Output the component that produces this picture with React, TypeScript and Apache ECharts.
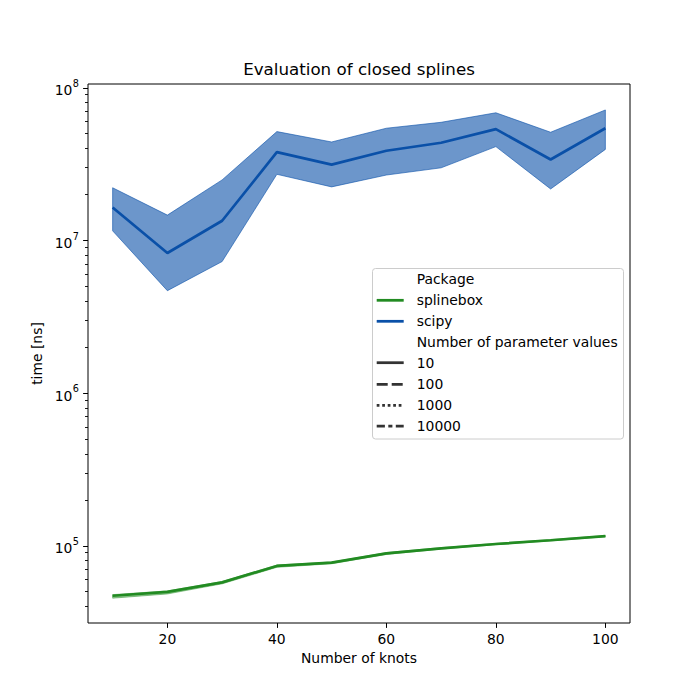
import React, { useEffect, useRef } from "react";
import * as echarts from "echarts";

const knots = [10, 20, 30, 40, 50, 60, 70, 80, 90, 100];

const scipyMean = [1.65e7, 8.3e6, 1.35e7, 3.8e7, 3.15e7, 3.88e7, 4.38e7, 5.38e7, 3.4e7, 5.45e7];
const scipyLow = [1.16e7, 4.7e6, 7.3e6, 2.72e7, 2.25e7, 2.69e7, 3.0e7, 4.13e7, 2.18e7, 3.96e7];
const scipyHigh = [2.22e7, 1.47e7, 2.5e7, 5.18e7, 4.43e7, 5.45e7, 5.96e7, 6.88e7, 5.13e7, 7.18e7];

const splineboxMean = [4.72e4, 5.0e4, 5.78e4, 7.4e4, 7.78e4, 8.95e4, 9.65e4, 1.03e5, 1.09e5, 1.16e5];
const splineboxLow = [4.55e4, 4.85e4, 5.65e4, 7.25e4, 7.65e4, 8.8e4, 9.55e4, 1.02e5, 1.08e5, 1.15e5];
const splineboxHigh = [4.8e4, 5.08e4, 5.85e4, 7.5e4, 7.85e4, 9.05e4, 9.75e4, 1.04e5, 1.1e5, 1.17e5];

const xTicks = [20, 40, 60, 80, 100];
const yTicks = [1e5, 1e6, 1e7, 1e8];
const yTickExponents = ["5", "6", "7", "8"];
const yMinorTicks = [
  4e4, 5e4, 6e4, 7e4, 8e4, 9e4,
  2e5, 3e5, 4e5, 5e5, 6e5, 7e5, 8e5, 9e5,
  2e6, 3e6, 4e6, 5e6, 6e6, 7e6, 8e6, 9e6,
  2e7, 3e7, 4e7, 5e7, 6e7, 7e7, 8e7, 9e7,
];

const packageNames = ["splinebox", "scipy"];
const packageColors = ["#228b22", "#0a50a8"];
const paramCounts = ["10", "100", "1000", "10000"];
const paramDashes: (number[] | null)[] = [null, [11, 4], [2.75, 2.75], [8.2, 3.4, 4.1, 3.4]];

const FONT = "DejaVu Sans";
const FS = 13.9;
const X_MIN = 5.5;
const X_MAX = 104.5;
const Y_MIN = 31300;
const Y_MAX = 1.062e8;

function bandSeries(lo: number[], hi: number[], fill: string) {
  return {
    type: "custom",
    silent: true,
    z: 1,
    data: knots.map((k, i) => [k, lo[i], hi[i]]),
    encode: { x: 0, y: [1, 2] },
    renderItem: (params: any, api: any) => {
      if (params.dataIndex !== 0) return null;
      const pts: number[][] = [];
      for (let i = 0; i < knots.length; i++) pts.push(api.coord([knots[i], hi[i]]));
      for (let i = knots.length - 1; i >= 0; i--) pts.push(api.coord([knots[i], lo[i]]));
      return {
        type: "polygon",
        shape: { points: pts },
        style: { fill, stroke: fill, lineWidth: 1, opacity: 1 },
      };
    },
  };
}

export default function App() {
  const ref = useRef<HTMLDivElement>(null);
  useEffect(() => {
    if (!ref.current) return;
    const chart = echarts.init(ref.current, undefined, { renderer: "svg" });

    const legendX = 372.5;
    const legendY = 268.5;
    const rowY = [278.7, 300.3, 321.3, 342, 362.7, 384.3, 405.3, 426];
    const handleX1 = 376.7;
    const handleX2 = 403.7;
    const textX = 416.7;
    const legendTexts = ["Package", ...packageNames, "Number of parameter values", ...paramCounts];

    const graphics: any[] = [
      {
        type: "rect",
        shape: { x: legendX, y: legendY, width: 251, height: 170.5, r: 3 },
        style: { fill: "rgba(255,255,255,0.8)", stroke: "#cccccc", lineWidth: 1 },
        z: 100,
      },
    ];
    legendTexts.forEach((t, i) => {
      graphics.push({
        type: "text",
        x: textX,
        y: rowY[i],
        style: { text: t, fontFamily: FONT, fontSize: FS, fill: "#000", verticalAlign: "middle", align: "left" },
        z: 101,
      });
    });
    packageNames.forEach((_, i) => {
      graphics.push({
        type: "line",
        shape: { x1: handleX1, y1: rowY[1 + i], x2: handleX2, y2: rowY[1 + i] },
        style: { stroke: packageColors[i], lineWidth: 2.75 },
        z: 101,
      });
    });
    paramCounts.forEach((_, i) => {
      graphics.push({
        type: "line",
        shape: { x1: handleX1, y1: rowY[4 + i], x2: handleX2, y2: rowY[4 + i] },
        style: { stroke: "#333333", lineWidth: 2.75, lineDash: paramDashes[i] || undefined },
        z: 101,
      });
    });

    chart.setOption({
      animation: false,
      backgroundColor: "#ffffff",
      textStyle: { fontFamily: FONT },
      title: {
        text: "Evaluation of closed splines",
        left: 359,
        top: 60,
        padding: 0,
        textAlign: "center",
        textStyle: { fontFamily: FONT, fontSize: 16.7, fontWeight: "normal", color: "#000" },
      },
      grid: {
        left: 88,
        right: 70,
        top: 84,
        bottom: 77,
        show: true,
        borderColor: "#000",
        borderWidth: 1,
        backgroundColor: "transparent",
        containLabel: false,
      },
      xAxis: {
        type: "value",
        min: X_MIN,
        max: X_MAX,
        name: "Number of knots",
        nameLocation: "middle",
        nameGap: 28,
        nameTextStyle: { fontFamily: FONT, fontSize: FS, color: "#000" },
        axisLine: { show: false },
        splitLine: { show: false },
        axisTick: { show: true, length: 4.9, customValues: xTicks, lineStyle: { color: "#000", width: 1 } },
        axisLabel: {
          customValues: xTicks,
          margin: 9,
          fontFamily: FONT,
          fontSize: FS,
          color: "#000",
        },
      },
      yAxis: {
        type: "log",
        logBase: 10,
        min: Y_MIN,
        max: Y_MAX,
        name: "time [ns]",
        nameLocation: "middle",
        nameGap: 43,
        nameRotate: 90,
        nameTextStyle: { fontFamily: FONT, fontSize: FS, color: "#000" },
        axisLine: { show: false },
        splitLine: { show: false },
        axisTick: { show: true, length: 4.9, customValues: yTicks, lineStyle: { color: "#000", width: 1 } },
        axisLabel: {
          customValues: yTicks,
          margin: 9,
          fontFamily: FONT,
          color: "#000",
          formatter: (v: number) => {
            const idx = yTicks.findIndex((t) => Math.abs(t - v) / t < 1e-6);
            return idx >= 0 ? `{b|10}{s|${yTickExponents[idx]}}` : "";
          },
          rich: {
            b: { fontFamily: FONT, fontSize: FS, color: "#000", lineHeight: 19, verticalAlign: "bottom" },
            s: { fontFamily: FONT, fontSize: 9.7, color: "#000", lineHeight: 19, verticalAlign: "top", padding: [0, 0, 0, 0.5] },
          },
        },
      },
      series: [
        bandSeries(scipyLow, scipyHigh, "rgba(10,80,168,0.6)"),
        bandSeries(splineboxLow, splineboxHigh, "rgba(34,139,34,0.45)"),
        {
          type: "line",
          name: "scipy",
          data: knots.map((k, i) => [k, scipyMean[i]]),
          symbol: "none",
          z: 3,
          lineStyle: { color: packageColors[1], width: 2.7 },
          itemStyle: { color: packageColors[1] },
        },
        {
          type: "line",
          name: "splinebox",
          data: knots.map((k, i) => [k, splineboxMean[i]]),
          symbol: "none",
          z: 3,
          lineStyle: { color: packageColors[0], width: 2.7 },
          itemStyle: { color: packageColors[0] },
        },
        {
          // minor ticks of the log y axis (2..9 x 10^n), placed through the axis scale
          type: "custom",
          silent: true,
          clip: false,
          z: 10,
          data: yMinorTicks.map((v) => [X_MIN, v]),
          encode: { x: 0, y: 1 },
          renderItem: (params: any, api: any) => {
            const p = api.coord([X_MIN, yMinorTicks[params.dataIndex]]);
            const y = Math.round(p[1] - 0.5) + 0.5;
            const x = Math.round(p[0]);
            return {
              type: "line",
              shape: { x1: x - 3, y1: y, x2: x, y2: y },
              style: { stroke: "#000000", lineWidth: 0.9 },
            };
          },
        },
      ],
      graphic: graphics,
    });
    return () => chart.dispose();
  }, []);
  return <div ref={ref} style={{ position: "absolute", left: 0, top: 0, width: 700, height: 700 }} />;
}
